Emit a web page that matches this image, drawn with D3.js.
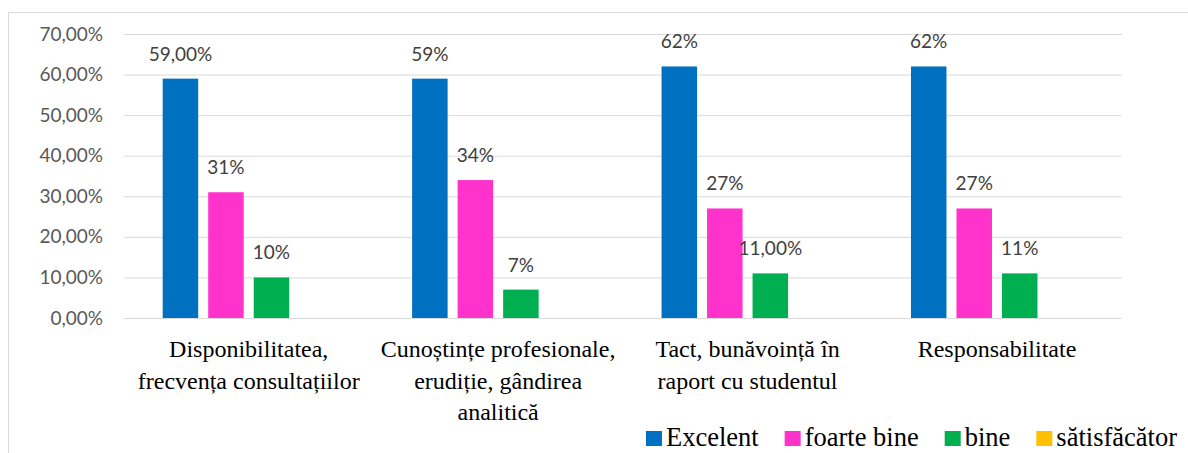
<!DOCTYPE html>
<html>
<head>
<meta charset="utf-8">
<script src="https://cdn.jsdelivr.net/npm/d3@7"></script>
<style>
  html, body { margin: 0; padding: 0; background: #fff; }
  svg { display: block; }
  .serif { font-family: 'Liberation Serif'; }
  .sans { font-family: 'Lato'; }
</style>
</head>
<body>
<svg id="chart" width="1188" height="453"></svg>
<script>
// ---- data ----
const categories = [
  ["Disponibilitatea,", "frecvența consultațiilor"],
  ["Cunoștințe profesionale,", "erudiție, gândirea", "analitică"],
  ["Tact, bunăvoință în", "raport cu studentul"],
  ["Responsabilitate"]
];
const seriesNames = ["Excelent", "foarte bine", "bine", "sătisfăcător"];
const excelent = [59, 59, 62, 62];
const foarteBine = [31, 34, 27, 27];
const bine = [10, 7, 11, 11];
const satisfacator = [0, 0, 0, 0];
const excelentLabels = ["59,00%", "59%", "62%", "62%"];
const foarteBineLabels = ["31%", "34%", "27%", "27%"];
const bineLabels = ["10%", "7%", "11,00%", "11%"];
const satisfacatorLabels = ["", "", "", ""];
const yTicks = [0, 10, 20, 30, 40, 50, 60, 70];
const yTickLabels = ["0,00%", "10,00%", "20,00%", "30,00%", "40,00%", "50,00%", "60,00%", "70,00%"];
const colors = ["#0070C0", "#FF33CC", "#00B050", "#FFC000"];

const seriesValues = [excelent, foarteBine, bine, satisfacator];
const seriesLabels = [excelentLabels, foarteBineLabels, bineLabels, satisfacatorLabels];

// ---- layout ----
const svg = d3.select("#chart");
const plot = { left: 124, right: 1121.7, top: 34, bottom: 318 };

// chart area border
svg.append("rect")
  .attr("x", 8.5).attr("y", 12.5)
  .attr("width", 1300).attr("height", 600)
  .attr("fill", "none").attr("stroke", "#d9d9d9").attr("stroke-width", 1);

const y = d3.scaleLinear().domain([0, 70]).range([plot.bottom, plot.top]);
const x0 = d3.scaleBand().domain(d3.range(categories.length))
  .range([plot.left, plot.right]).paddingInner(0).paddingOuter(0);
const x1 = d3.scaleBand().domain(d3.range(seriesNames.length))
  .range([0, x0.bandwidth()]).paddingInner(0.22).paddingOuter(0.85);

// gridlines + tick labels
const yAxis = d3.axisLeft(y).tickValues(yTicks)
  .tickSize(-(plot.right - plot.left))
  .tickPadding(21)
  .tickFormat((d, i) => yTickLabels[i]);
const gy = svg.append("g").attr("transform", `translate(${plot.left},0)`).call(yAxis);
gy.attr("font-family", null).attr("font-size", null);
gy.select(".domain").remove();
gy.selectAll(".tick line").attr("stroke", "#d9d9d9").attr("stroke-width", 1);
gy.selectAll(".tick text").attr("fill", "#595959").attr("class", "sans").style("font-size", "19px");

// bars
const groups = svg.append("g").selectAll("g")
  .data(categories.map((c, i) => i))
  .join("g")
  .attr("transform", i => `translate(${x0(i)},0)`);

const cellData = ci => seriesValues.map((vals, si) => ({ si, v: vals[ci], label: seriesLabels[si][ci] }));

groups.selectAll("rect")
  .data(cellData)
  .join("rect")
  .attr("x", d => x1(d.si))
  .attr("width", x1.bandwidth())
  .attr("y", d => y(d.v))
  .attr("height", d => y(0) - y(d.v))
  .attr("fill", d => colors[d.si]);

// data labels
groups.selectAll("text.lbl")
  .data(ci => cellData(ci).filter(d => d.label))
  .join("text")
  .attr("class", "lbl sans")
  .attr("x", d => x1(d.si) + x1.bandwidth() / 2)
  .attr("y", d => y(d.v) - 18)
  .attr("text-anchor", "middle")
  .attr("fill", "#404040")
  .style("font-size", "19px")
  .text(d => d.label);

// category labels
const catG = svg.append("g");
categories.forEach((lines, ci) => {
  const cx = x0(ci) + x0.bandwidth() / 2;
  const t = catG.append("text")
    .attr("class", "serif")
    .attr("x", cx)
    .attr("y", 357)
    .attr("text-anchor", "middle")
    .attr("fill", "#000")
    .style("font-size", "24px");
  lines.forEach((ln, li) => {
    t.append("tspan")
      .attr("x", cx)
      .attr("dy", li === 0 ? 0 : 31.5)
      .text(ln);
  });
});

// legend (right aligned)
const legend = svg.append("g");
const sqW = 16, sqH = 15, sqGap = 4, itemGap = 26, legendRight = 1177, legendBaseline = 446;
const items = seriesNames.map((name, i) => {
  const g = legend.append("g");
  g.append("rect").attr("width", sqW).attr("height", sqH).attr("y", -sqH).attr("fill", colors[i]);
  const t = g.append("text")
    .attr("class", "serif")
    .attr("x", sqW + sqGap)
    .attr("y", 0)
    .attr("fill", "#000")
    .style("font-size", "26.5px")
    .text(name);
  return { g, w: sqW + sqGap + t.node().getComputedTextLength() };
});
const total = d3.sum(items, d => d.w) + itemGap * (items.length - 1);
let lx = legendRight - total;
items.forEach(it => {
  it.g.attr("transform", `translate(${lx},${legendBaseline})`);
  lx += it.w + itemGap;
});
</script>
</body>
</html>
